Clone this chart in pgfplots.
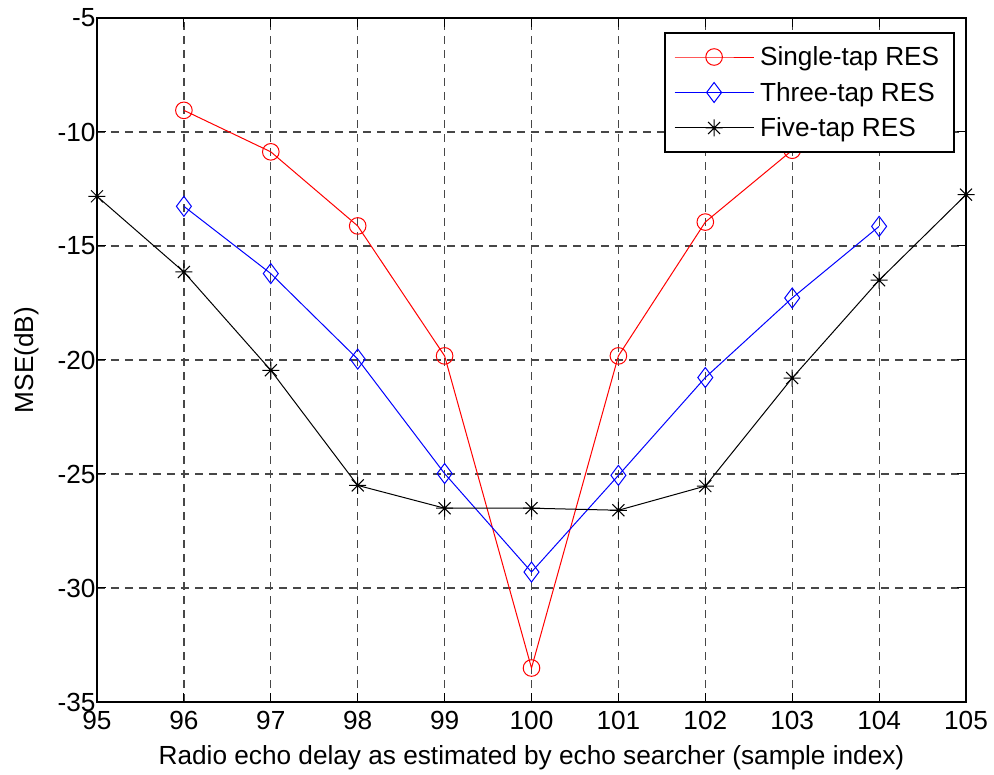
\documentclass[border=0pt]{standalone}
\usepackage{fontspec}
\setmainfont{Liberation Sans}
\usepackage{pgfplots}
\pgfplotsset{compat=1.18}
\pgfdeclareplotmark{mstar}{%
  \pgfpathmoveto{\pgfqpoint{-\pgfplotmarksize}{0pt}}\pgfpathlineto{\pgfqpoint{\pgfplotmarksize}{0pt}}%
  \pgfpathmoveto{\pgfqpoint{0pt}{-\pgfplotmarksize}}\pgfpathlineto{\pgfqpoint{0pt}{\pgfplotmarksize}}%
  \pgfpathmoveto{\pgfqpoint{-.7071\pgfplotmarksize}{-.7071\pgfplotmarksize}}\pgfpathlineto{\pgfqpoint{.7071\pgfplotmarksize}{.7071\pgfplotmarksize}}%
  \pgfpathmoveto{\pgfqpoint{-.7071\pgfplotmarksize}{.7071\pgfplotmarksize}}\pgfpathlineto{\pgfqpoint{.7071\pgfplotmarksize}{-.7071\pgfplotmarksize}}%
  \pgfusepathqstroke}
\newcommand{\myfont}{\fontsize{26.2bp}{31bp}\selectfont}
\begin{document}
\begin{tikzpicture}
\begin{axis}[
  scale only axis,
  width=869bp, height=684bp,
  xmin=95, xmax=105, ymin=-35, ymax=-5,
  xtick={95,96,...,105}, ytick={-35,-30,...,-5},
  /pgf/number format/assume math mode=true,
  tick label style={font=\myfont},
  yticklabel style={xshift=2bp},
  xticklabel style={yshift=-6bp},
  label style={font=\myfont},
  xlabel={Radio echo delay as estimated by echo searcher (sample index)},
  ylabel={MSE(dB)},
  xlabel style={at={(axis description cs:0.5,-0.0921)}, anchor=base},
  ylabel style={at={(axis description cs:-0.0736,0.5)}, anchor=base},
  grid=major,
  major grid style={dash pattern=on 8bp off 6bp, black!72, line width=1.2bp},
  tick align=inside,
  major tick length=9bp,
  tick style={black, line width=1bp},
  axis line style={line width=1.5bp},
  legend style={at={(rel axis cs:0.9873,0.9795)}, anchor=north east,
    font=\myfont, draw=black, line width=1.5bp, fill=white,
    inner xsep=9bp, inner ysep=6.5bp,
    nodes={inner xsep=6bp, inner ysep=7.5bp}},
  legend cell align=left,
  legend image code/.code={\draw[mark repeat=2,mark phase=2,#1] plot coordinates {(0bp,0bp) (39.5bp,0bp) (79bp,0bp)};},
  every axis plot/.append style={line width=1bp},
]
\addplot[red, mark=o, mark size=8.3bp] coordinates {
 (96,-9.05) (97,-10.87) (98,-14.12) (99,-19.82) (100,-33.51) (101,-19.82) (102,-13.95) (103,-10.80)};
\addlegendentry{Single-tap RES}
\addplot[blue, mark=diamond, mark size=10bp] coordinates {
 (96,-13.26) (97,-16.21) (98,-19.96) (99,-24.98) (100,-29.30) (101,-25.06) (102,-20.77) (103,-17.28) (104,-14.14)};
\addlegendentry{Three-tap RES}
\addplot[black, mark=mstar, mark size=8.5bp] coordinates {
 (95,-12.82) (96,-16.14) (97,-20.45) (98,-25.50) (99,-26.50) (100,-26.50) (101,-26.59) (102,-25.53) (103,-20.79) (104,-16.50) (105,-12.75)};
\addlegendentry{Five-tap RES}
\end{axis}
\pgfresetboundingbox
\path ([shift={(-97bp,-73bp)}]current axis.south west) rectangle ([shift={(28bp,18bp)}]current axis.north east);
\end{tikzpicture}
\end{document}
